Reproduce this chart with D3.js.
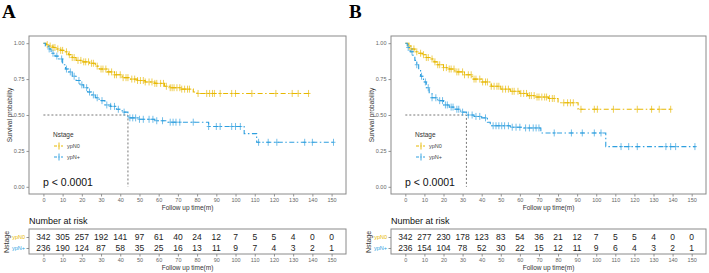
<!DOCTYPE html>
<html>
<head>
<meta charset="utf-8">
<script src="https://cdnjs.cloudflare.com/ajax/libs/d3/7.8.5/d3.min.js"></script>
<style>
  body { margin: 0; background: #fff; }
  svg text { font-family: "Liberation Sans", Arial, sans-serif; }
</style>
</head>
<body>
<svg id="chart" width="709" height="273"></svg>
<script>
var color = {"n0": "#E7B800", "np": "#2E9FDF"};
var groups = ["ypN0", "ypN+"];
var riskTimes = [0, 10, 20, 30, 40, 50, 60, 70, 80, 90, 100, 110, 120, 130, 140, 150];
var yTicks = [0, 0.25, 0.5, 0.75, 1];

// Panel A: KM steps [time, survival]
var stepsA_n0 = [[0,1],[1.5,0.99],[3,0.98],[5,0.97],[7,0.96],[9,0.95],[11,0.94],[13,0.92],[15,0.90],[17,0.88],
  [20,0.87],[24,0.86],[27,0.84],[29,0.82],[33,0.80],[37,0.78],[41,0.76],[45,0.75],[49,0.74],[53,0.73],
  [58,0.72],[63,0.70],[66,0.69],[72,0.68],[78,0.66],[80,0.65]];
var endA_n0 = 138;
var stepsA_np = [[0,1],[1,0.98],[2.5,0.96],[4,0.93],[6,0.91],[8,0.89],[10,0.85],[11.5,0.82],[13,0.80],[15,0.77],
  [17,0.74],[19,0.71],[21,0.69],[23,0.66],[25,0.64],[27,0.62],[29,0.60],[32,0.57],[35,0.56],[38,0.54],
  [41,0.52],[44,0.48],[50,0.47],[58,0.46],[64,0.45],[86,0.42],[104.5,0.37],[111,0.31]];
var endA_np = 151;
var censA_n0 = [2,3.5,5,6,7.5,9,10,12,13.5,15,16,18,19.5,21,22,23.5,25,26,28,30,31,32.5,34,35.5,37,38,40,41.5,43,44,
  46,47.5,49,50.5,52,53,55,56.5,58,59,61,62.5,64,66,67,68,69.5,71,72,73.5,75,76,80.5,85,86.5,88,89,92,98,100,
  108.5,121,129.5,132.6,138];
var censA_np = [3,5,7,9.5,12,14,16,18.5,20,22.5,24,26,28,30.5,33,35,37,39,42,45,46.5,48,50,52,55,57,59,62,66,67.5,
  69,71,78,86,90,92,98,100,102.5,112,117,121.5,136,140,151];
var riskA_n0 = [342,305,257,192,141,97,61,40,24,12,7,5,5,4,0,0];
var riskA_np = [236,190,124,87,58,35,25,16,13,11,9,7,4,3,2,1];

// Panel B
var stepsB_n0 = [[0,1],[1.5,0.98],[3,0.96],[5,0.94],[7,0.93],[9,0.92],[11,0.90],[13,0.89],[15,0.87],[17,0.85],
  [20,0.83],[23,0.82],[26,0.80],[31,0.78],[35,0.75],[40,0.73],[45,0.70],[50,0.68],[55,0.665],[60,0.65],
  [64,0.635],[68,0.625],[75,0.615],[80,0.585],[90.5,0.54]];
var endB_n0 = 139;
var stepsB_np = [[0,1],[1,0.97],[2.5,0.94],[4,0.91],[5,0.88],[6,0.85],[7,0.81],[8,0.77],[9.5,0.73],[11,0.69],
  [12.5,0.65],[14,0.62],[17,0.60],[20,0.57],[23,0.555],[26,0.54],[29,0.52],[32,0.50],[36,0.49],[40,0.48],
  [43,0.45],[44.5,0.425],[55,0.415],[62,0.41],[71,0.375],[105,0.28]];
var endB_np = 152;
var censB_n0 = [2,3,4.5,6,8,9.5,11,12,14,15.5,17,18,20,21.5,23,24,25.5,27,28,30,31,33,34.5,36,37,39,40.5,42,43,45,
  46.5,48,49,51,52.5,54,56,57,59,60.5,62,63.5,65,66,67.5,69,70,71.5,73,74,75.5,77,78,83,85,86.5,88,92,99,100.6,
  109,121.5,129,133,139];
var censB_np = [1.5,3.5,6,8.5,10.5,12,14,16,18,19.5,21,22,24,25,27,28,30,33,35,37,39,42,46,47.5,49,50.5,52,54,56,
  58,60,63,65,67,68.5,70,78,87,92.7,99,102.5,113,117,121.5,136.5,139,141.6,151.7];
var riskB_n0 = [342,277,230,178,123,83,54,36,21,12,7,5,5,4,0,0];
var riskB_np = [236,154,104,78,52,30,22,15,12,11,9,6,4,3,2,1];

var svg = d3.select("#chart");
var dash = "5,2.5,1.5,2.5";
var grey = "#555";

function survAt(steps, t) {
  var s = 1;
  steps.forEach(function(d){ if (d[0] <= t) s = d[1]; });
  return s;
}

function styleAxis(g) {
  g.select(".domain").remove();
  g.selectAll(".tick line").attr("stroke", "#777").attr("stroke-width", 0.8);
  g.selectAll(".tick text").attr("fill", "#666").style("font-size", "5.5px");
}

function drawPanel(p) {
  var x = d3.scaleLinear().domain([-7.5, 157.5]).range([p.left, p.right]);
  var y = d3.scaleLinear().domain([-0.05, 1.05]).range([194, 36]);
  var g = svg.append("g");

  g.append("text").attr("x", p.letterX).attr("y", 18)
    .style("font-family", "'Liberation Serif', 'Times New Roman', serif")
    .style("font-size", "19px").style("font-weight", "bold").text(p.letter);

  // axes
  g.append("g").attr("transform", "translate(" + p.left + ",0)")
    .call(d3.axisLeft(y).tickValues(yTicks).tickFormat(d3.format(".2f")).tickSize(2.5).tickPadding(2))
    .call(styleAxis);
  g.append("g").attr("transform", "translate(0,194)")
    .call(d3.axisBottom(x).tickValues(riskTimes).tickSize(2.5).tickPadding(2))
    .call(styleAxis);

  g.append("text").attr("transform", "translate(" + (p.left - 17) + ",115) rotate(-90)")
    .attr("text-anchor", "middle").style("font-size", "6.5px").attr("fill", "#333").text("Survival probability");
  g.append("text").attr("x", (p.left + p.right) / 2).attr("y", 210)
    .attr("text-anchor", "middle").style("font-size", "6.5px").attr("fill", "#333").text("Follow up time(m)");

  // median lines
  var curves = [
    {steps: p.n0, end: p.endN0, cens: p.censN0, col: color.n0},
    {steps: p.np, end: p.endNp, cens: p.censNp, col: color.np}
  ];
  var med = p.np.find(function(d){ return d[1] <= 0.5; })[0];
  g.append("path")
    .attr("d", "M" + x(0) + "," + y(0.5) + "H" + x(med) + "V" + y(0))
    .attr("fill", "none").attr("stroke", grey).attr("stroke-width", 0.8).attr("stroke-dasharray", "2,2");

  var line = d3.line().x(function(d){ return x(d[0]); }).y(function(d){ return y(d[1]); })
    .curve(d3.curveStepAfter);

  curves.forEach(function(c) {
    var pts = c.steps.concat([[c.end, c.steps[c.steps.length - 1][1]]]);
    g.append("path").datum(pts).attr("d", line)
      .attr("fill", "none").attr("stroke", c.col).attr("stroke-width", 1.1)
      .attr("stroke-dasharray", dash);
    g.selectAll(null).data(c.cens).enter().append("path")
      .attr("d", function(t){
        var cx = x(t), cy = y(survAt(c.steps, t));
        return "M" + cx + "," + (cy - 3.5) + "V" + (cy + 3.5) + "M" + (cx - 2) + "," + cy + "H" + (cx + 2);
      })
      .attr("fill", "none").attr("stroke", c.col).attr("stroke-width", 0.8).attr("stroke-opacity", 0.85);
  });

  // legend
  var lx = p.left + 24;
  g.append("text").attr("x", lx).attr("y", 137).style("font-size", "6.5px").attr("fill", "#333").text("Nstage");
  [color.n0, color.np].forEach(function(col, i) {
    var ly = 146 + i * 11;
    g.append("path").attr("d", "M" + (lx + 1) + "," + ly + "H" + (lx + 10))
      .attr("stroke", col).attr("stroke-width", 1).attr("stroke-dasharray", "3,1.5,1,1.5");
    g.append("path").attr("d", "M" + (lx + 6) + "," + (ly - 3.5) + "V" + (ly + 3.5))
      .attr("stroke", col).attr("stroke-width", 0.9);
    g.append("text").attr("x", lx + 14).attr("y", ly + 2).style("font-size", "5.5px").attr("fill", "#444").text(groups[i]);
  });

  g.append("text").attr("x", p.left + 14).attr("y", 186).style("font-size", "10.5px").attr("fill", "#111").text("p < 0.0001");

  // plot border
  g.append("rect").attr("x", p.left).attr("y", 36).attr("width", p.right - p.left).attr("height", 158)
    .attr("fill", "none").attr("stroke", "#8a8a8a").attr("stroke-width", 1);

  // risk table
  g.append("text").attr("x", p.left).attr("y", 224).style("font-size", "9px").attr("fill", "#111").text("Number at risk");
  var yr = d3.scalePoint().domain(groups).range([237, 248]);
  g.append("rect").attr("x", p.left).attr("y", 229).attr("width", p.right - p.left).attr("height", 25)
    .attr("fill", "none").attr("stroke", "#8a8a8a").attr("stroke-width", 1);
  [p.riskN0, p.riskNp].forEach(function(row, i) {
    g.selectAll(null).data(row).enter().append("text")
      .attr("x", function(d, j){ return x(riskTimes[j]); })
      .attr("y", yr(groups[i]) + 3)
      .attr("text-anchor", "middle").style("font-size", "8.5px").attr("fill", "#222")
      .text(function(d){ return d; });
  });
  var ya = g.append("g").attr("transform", "translate(" + p.left + ",0)")
    .call(d3.axisLeft(yr).tickSize(2.5).tickPadding(1.5)).call(styleAxis);
  ya.selectAll(".tick text").attr("fill", function(d){ return d === "ypN0" ? color.n0 : color.np; });
  g.append("g").attr("transform", "translate(0,254)")
    .call(d3.axisBottom(x).tickValues(riskTimes).tickSize(2.5).tickPadding(2))
    .call(styleAxis);
  g.append("text").attr("transform", "translate(" + (p.left - 20) + ",242) rotate(-90)")
    .attr("text-anchor", "middle").style("font-size", "7px").attr("fill", "#333").text("Nstage");
  g.append("text").attr("x", (p.left + p.right) / 2).attr("y", 270)
    .attr("text-anchor", "middle").style("font-size", "6.5px").attr("fill", "#333").text("Follow up time(m)");
}

drawPanel({letter: "A", letterX: 2, left: 29, right: 346,
  n0: stepsA_n0, endN0: endA_n0, np: stepsA_np, endNp: endA_np, censN0: censA_n0, censNp: censA_np,
  riskN0: riskA_n0, riskNp: riskA_np});
drawPanel({letter: "B", letterX: 349, left: 391, right: 706,
  n0: stepsB_n0, endN0: endB_n0, np: stepsB_np, endNp: endB_np, censN0: censB_n0, censNp: censB_np,
  riskN0: riskB_n0, riskNp: riskB_np});
</script>
</body>
</html>
